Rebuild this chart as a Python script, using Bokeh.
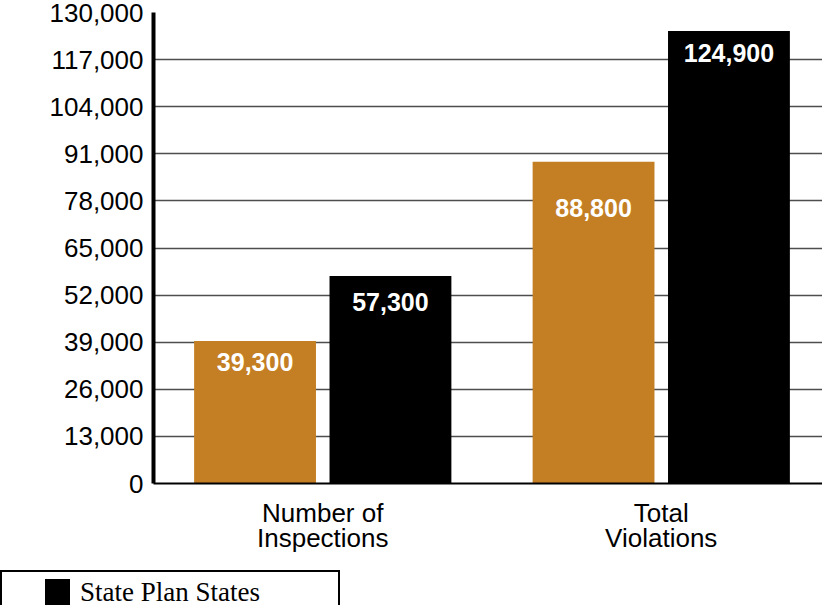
from bokeh.plotting import figure
from bokeh.models import (Range1d, FixedTicker, NumeralTickFormatter,
                          ColumnDataSource, Div, LinearAxis)
from bokeh.layouts import column
from bokeh.core.properties import value
from bokeh.embed import file_html
from bokeh.resources import INLINE

categories = ["Number of\nInspections", "Total\nViolations"]
federal = [39300, 88800]
state = [57300, 124900]
y_ticks = list(range(0, 130001, 13000))
legend_label = "State Plan States"

ORANGE = "#C47F24"
SANS = "'Liberation Sans', Arial, sans-serif"
SERIF = "'Liberation Serif', 'Times New Roman', serif"

centers = [i + 0.5 for i in range(len(categories))]
x_fed = [c - 0.2 for c in centers]
x_st = [c + 0.2 for c in centers]
line1 = [c.split("\n")[0] for c in categories]
line2 = [c.split("\n")[1] for c in categories]

src = ColumnDataSource(dict(
    x_fed=x_fed, x_st=x_st, federal=federal, state=state,
    federal_lbl=[f"{v:,}" for v in federal],
    state_lbl=[f"{v:,}" for v in state],
    fed_off=[21, 46], st_off=[26, 22],
))

W, H = 822, 570
p = figure(x_range=Range1d(0, 669 / 338.5), y_range=Range1d(0, 130000),
           width=W, height=H, output_backend="svg", toolbar_location=None,
           min_border_left=153, min_border_right=0, min_border_top=12,
           min_border_bottom=87)
p.outline_line_color = None

p.vbar(x="x_fed", top="federal", width=0.36, source=src,
       fill_color=ORANGE, line_color=None)
p.vbar(x="x_st", top="state", width=0.36, source=src,
       fill_color="black", line_color=None)

common = dict(text_align="center", text_baseline="middle", text_color="white",
              text_font=value(SANS), text_font_style="bold", text_font_size="25px")
p.text(x="x_fed", y="federal", text="federal_lbl", y_offset="fed_off", source=src, **common)
p.text(x="x_st", y="state", text="state_lbl", y_offset="st_off", source=src, **common)

# y axis
p.yaxis.ticker = FixedTicker(ticks=y_ticks)
p.yaxis.formatter = NumeralTickFormatter(format="0,0")
p.yaxis.major_label_text_font = SANS
p.yaxis.major_label_text_font_size = "26px"
p.yaxis.major_label_text_color = "black"
p.yaxis.major_tick_line_color = None
p.yaxis.major_tick_out = 0
p.yaxis.minor_tick_line_color = None
p.yaxis.axis_line_width = 4
p.yaxis.axis_line_color = "black"
p.yaxis.major_label_standoff = 10

# x axis: two stacked axes, one per label line
xa = p.xaxis[0]
xa.ticker = FixedTicker(ticks=centers)
xa.major_label_overrides = {c: lab for c, lab in zip(centers, line1)}
xa.major_label_text_font = SANS
xa.major_label_text_font_size = "26px"
xa.major_label_text_color = "black"
xa.major_tick_line_color = None
xa.major_tick_out = 0
xa.major_tick_in = 0
xa.minor_tick_line_color = None
xa.axis_line_width = 2
xa.axis_line_color = "black"
xa.major_label_standoff = 14

xb = LinearAxis(ticker=FixedTicker(ticks=centers),
                major_label_overrides={c: lab for c, lab in zip(centers, line2)},
                major_label_text_font=SANS, major_label_text_font_size="26px",
                major_label_text_color="black", major_tick_line_color=None,
                major_tick_out=0, major_tick_in=0, minor_tick_line_color=None,
                axis_line_color=None, major_label_standoff=-8)
p.add_layout(xb, "below")

p.xgrid.grid_line_color = None
p.ygrid.grid_line_color = "#4d4d4d"
p.ygrid.grid_line_width = 1.5
p.ygrid.ticker = FixedTicker(ticks=y_ticks)

legend_html = (
    '<div style="display:flex;align-items:center;height:26px;margin-top:7px;">'
    '<span style="display:inline-block;width:25px;height:26px;background:black;'
    'margin-left:43px;margin-right:10px;flex:none;"></span>'
    f'<span style="font-family:{SERIF};font-size:27px;line-height:1;color:black;white-space:nowrap;">{legend_label}</span>'
    '</div>'
)
legend_div = Div(text=legend_html, width=340, height=35, margin=0,
                 styles={"border-top": "2px solid black", "border-right": "2px solid black",
                         "border-left": "2px solid black", "box-sizing": "border-box",
                         "background": "white"})

layout = column(p, legend_div, spacing=0)
open("out.html", "w").write(file_html(layout, INLINE))
